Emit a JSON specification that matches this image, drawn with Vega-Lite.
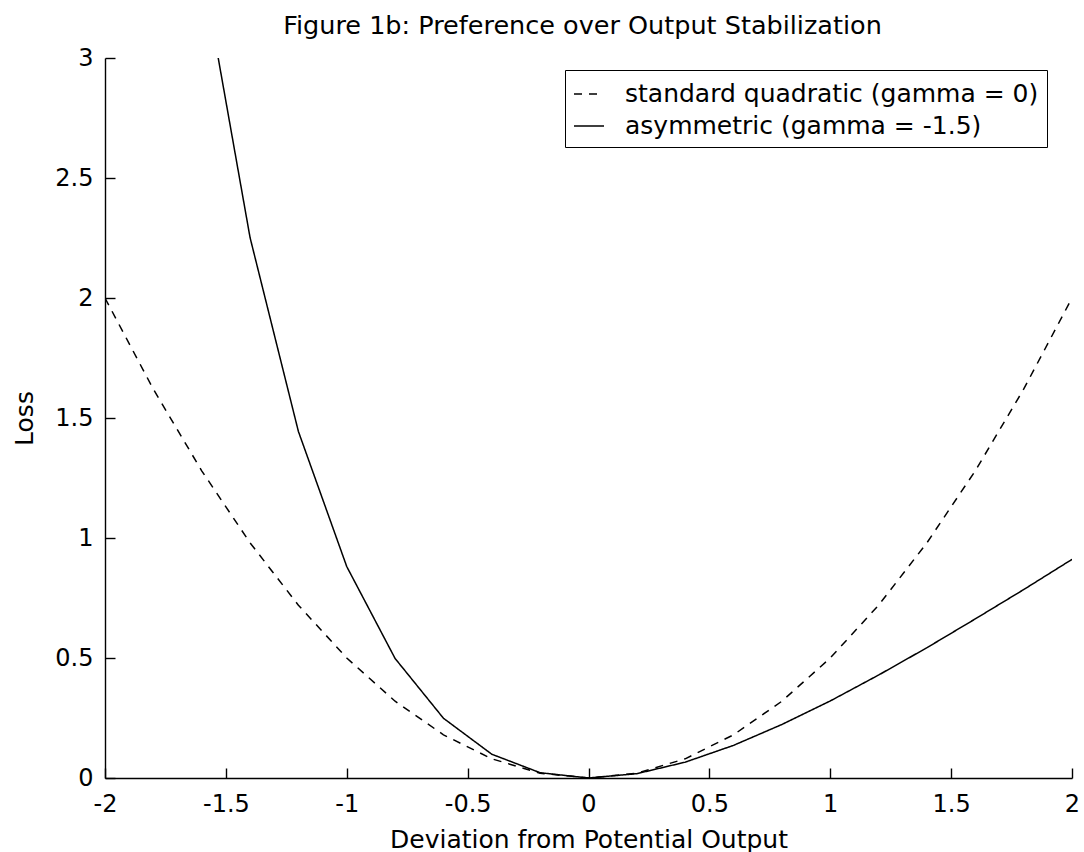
{
  "$schema": "https://vega.github.io/schema/vega-lite/v6.json",
  "width": 967,
  "height": 720,
  "autosize": "none",
  "padding": {"left": 105, "top": 58, "right": 12, "bottom": 74},
  "background": "white",
  "title": {
    "text": "Figure 1b: Preference over Output Stabilization",
    "frame": "group",
    "anchor": "middle",
    "baseline": "alphabetic",
    "offset": 21,
    "dy": 34,
    "dx": -6,
    "font": "DejaVu Sans",
    "fontSize": 25.5,
    "fontWeight": "normal",
    "color": "black"
  },
  "data": {
    "values": [
      {"x": -2.0, "loss": 2.0, "series": "standard quadratic (gamma = 0)"},
      {"x": -1.8, "loss": 1.62, "series": "standard quadratic (gamma = 0)"},
      {"x": -1.6, "loss": 1.28, "series": "standard quadratic (gamma = 0)"},
      {"x": -1.4, "loss": 0.98, "series": "standard quadratic (gamma = 0)"},
      {"x": -1.2, "loss": 0.72, "series": "standard quadratic (gamma = 0)"},
      {"x": -1.0, "loss": 0.5, "series": "standard quadratic (gamma = 0)"},
      {"x": -0.8, "loss": 0.32, "series": "standard quadratic (gamma = 0)"},
      {"x": -0.6, "loss": 0.18, "series": "standard quadratic (gamma = 0)"},
      {"x": -0.4, "loss": 0.08, "series": "standard quadratic (gamma = 0)"},
      {"x": -0.2, "loss": 0.02, "series": "standard quadratic (gamma = 0)"},
      {"x": 0.0, "loss": 0.0, "series": "standard quadratic (gamma = 0)"},
      {"x": 0.2, "loss": 0.02, "series": "standard quadratic (gamma = 0)"},
      {"x": 0.4, "loss": 0.08, "series": "standard quadratic (gamma = 0)"},
      {"x": 0.6, "loss": 0.18, "series": "standard quadratic (gamma = 0)"},
      {"x": 0.8, "loss": 0.32, "series": "standard quadratic (gamma = 0)"},
      {"x": 1.0, "loss": 0.5, "series": "standard quadratic (gamma = 0)"},
      {"x": 1.2, "loss": 0.72, "series": "standard quadratic (gamma = 0)"},
      {"x": 1.4, "loss": 0.98, "series": "standard quadratic (gamma = 0)"},
      {"x": 1.6, "loss": 1.28, "series": "standard quadratic (gamma = 0)"},
      {"x": 1.8, "loss": 1.62, "series": "standard quadratic (gamma = 0)"},
      {"x": 2.0, "loss": 2.0, "series": "standard quadratic (gamma = 0)"},
      {"x": -2.0, "loss": 7.149, "series": "asymmetric (gamma = -1.5)"},
      {"x": -1.8, "loss": 4.969, "series": "asymmetric (gamma = -1.5)"},
      {"x": -1.6, "loss": 3.388, "series": "asymmetric (gamma = -1.5)"},
      {"x": -1.4, "loss": 2.252, "series": "asymmetric (gamma = -1.5)"},
      {"x": -1.2, "loss": 1.444, "series": "asymmetric (gamma = -1.5)"},
      {"x": -1.0, "loss": 0.881, "series": "asymmetric (gamma = -1.5)"},
      {"x": -0.8, "loss": 0.498, "series": "asymmetric (gamma = -1.5)"},
      {"x": -0.6, "loss": 0.249, "series": "asymmetric (gamma = -1.5)"},
      {"x": -0.4, "loss": 0.099, "series": "asymmetric (gamma = -1.5)"},
      {"x": -0.2, "loss": 0.022, "series": "asymmetric (gamma = -1.5)"},
      {"x": 0.0, "loss": 0.0, "series": "asymmetric (gamma = -1.5)"},
      {"x": 0.2, "loss": 0.018, "series": "asymmetric (gamma = -1.5)"},
      {"x": 0.4, "loss": 0.066, "series": "asymmetric (gamma = -1.5)"},
      {"x": 0.6, "loss": 0.136, "series": "asymmetric (gamma = -1.5)"},
      {"x": 0.8, "loss": 0.223, "series": "asymmetric (gamma = -1.5)"},
      {"x": 1.0, "loss": 0.321, "series": "asymmetric (gamma = -1.5)"},
      {"x": 1.2, "loss": 0.429, "series": "asymmetric (gamma = -1.5)"},
      {"x": 1.4, "loss": 0.543, "series": "asymmetric (gamma = -1.5)"},
      {"x": 1.6, "loss": 0.663, "series": "asymmetric (gamma = -1.5)"},
      {"x": 1.8, "loss": 0.785, "series": "asymmetric (gamma = -1.5)"},
      {"x": 2.0, "loss": 0.911, "series": "asymmetric (gamma = -1.5)"}
    ]
  },
  "mark": {"type": "line", "clip": true, "color": "black", "strokeWidth": 1.5},
  "encoding": {
    "x": {
      "field": "x",
      "type": "quantitative",
      "scale": {"domain": [-2, 2], "nice": false, "zero": false},
      "axis": {
        "title": "Deviation from Potential Output",
        "values": [-2, -1.5, -1, -0.5, 0, 0.5, 1, 1.5, 2],
        "labelExpr": "'' + datum.value",
        "tickSize": -10,
        "labelPadding": 43,
        "labelFlush": false,
        "labelOverlap": false,
        "labelBaseline": "alphabetic",
        "titleBaseline": "alphabetic",
        "titleY": 69
      }
    },
    "y": {
      "field": "loss",
      "type": "quantitative",
      "scale": {"domain": [0, 3], "nice": false},
      "axis": {
        "title": "Loss",
        "values": [0, 0.5, 1, 1.5, 2, 2.5, 3],
        "labelExpr": "'' + datum.value",
        "tickSize": -10,
        "labelPadding": 22,
        "labelFlush": false,
        "labelOverlap": false,
        "titleBaseline": "alphabetic",
        "titleX": -73,
        "titleY": 360,
        "titleAngle": -90
      }
    },
    "strokeDash": {
      "field": "series",
      "type": "nominal",
      "scale": {
        "domain": ["standard quadratic (gamma = 0)", "asymmetric (gamma = -1.5)"],
        "range": [[8, 7], [1, 0]]
      },
      "legend": {
        "title": null,
        "orient": "none",
        "legendX": 460,
        "legendY": 12,
        "strokeColor": "black",
        "fillColor": "white",
        "padding": 8,
        "symbolType": "stroke",
        "symbolStrokeColor": "black",
        "symbolStrokeWidth": 1.5,
        "symbolSize": 900,
        "labelOffset": 20,
        "labelFont": "DejaVu Sans",
        "labelFontSize": 25,
        "labelColor": "black",
        "labelLimit": 700,
        "labelExpr": "datum.label + '\u00a0'",
        "rowPadding": 3
      }
    }
  },
  "config": {
    "view": {"stroke": null},
    "axis": {
      "grid": false,
      "domainColor": "black",
      "domainWidth": 1.4,
      "tickColor": "black",
      "tickWidth": 1.4,
      "labelFont": "DejaVu Sans",
      "labelFontSize": 24,
      "labelColor": "black",
      "titleFont": "DejaVu Sans",
      "titleFontSize": 25,
      "titleFontWeight": "normal",
      "titleColor": "black"
    }
  }
}
